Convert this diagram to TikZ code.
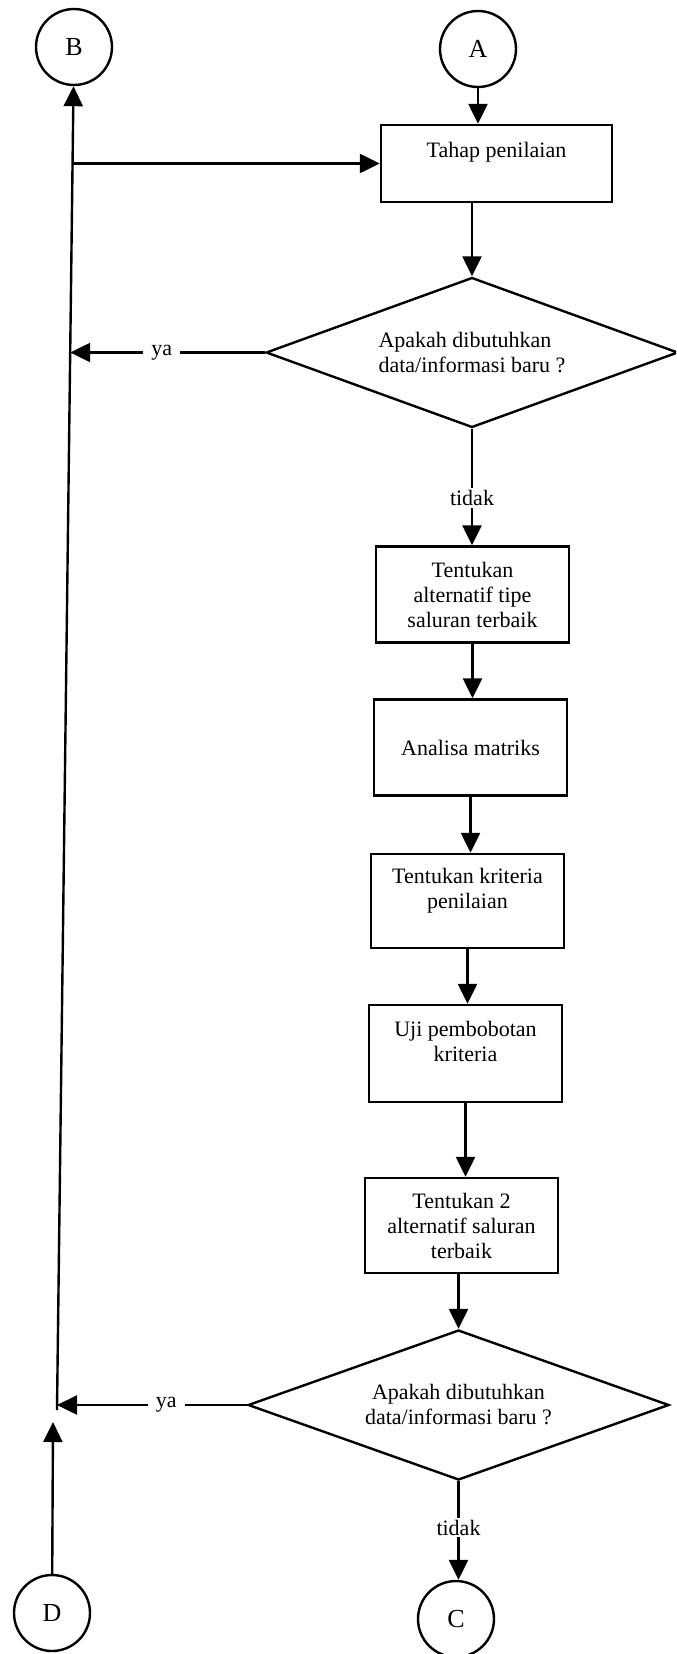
\documentclass[tikz,border=0pt]{standalone}
\usepackage{fontspec}
\setmainfont{Liberation Serif}
\usetikzlibrary{arrows.meta,shapes.geometric}

\begin{document}
\begin{tikzpicture}[x=0.5pt,y=-0.5pt,
  every node/.style={font=\fontsize{11}{12.5}\selectfont},
  conn/.style={line width=1.2pt},
  arr/.style={conn,-{Triangle[length=10pt,width=9.5pt]}},
  proc/.style={draw,line width=1.2pt,minimum width=96.5pt,minimum height=48pt,align=center,inner sep=0pt},
  decide/.style={draw,diamond,line width=1.2pt,inner sep=0pt},
  conlink/.style={draw,circle,line width=1.2pt,minimum size=38pt,inner sep=0pt,font=\fontsize{13}{15}\selectfont},
  lbl/.style={fill=white,inner xsep=4pt,inner ysep=1pt}
]
\useasboundingbox (0,0) rectangle (676,1654);
\clip (0,0) rectangle (676,1654);

% connectors (off-page links)
\node[conlink] (B) at (74,47) {B};
\node[conlink] (A) at (478,49) {A};
\node[conlink] (C) at (456,1619) {C};
\node[conlink] (D) at (52,1613) {D};

% process steps
\node[proc,minimum width=115.5pt,minimum height=38.5pt] (tahap) at (496.5,163.5) {};
\node[anchor=base] (tahapT) at (496.5,157) {Tahap penilaian};
\node[proc] (b2) at (472.5,594.5) {Tentukan\\alternatif tipe\\saluran terbaik};
\node[proc] (b3) at (470.5,747.5) {Analisa matriks};
\node[proc,minimum height=47pt] (b4) at (467.5,901) {};
\node[align=center] (b4T) at (467.5,891) {Tentukan kriteria\\penilaian};
\node[proc,minimum height=48.5pt] (b5) at (465.5,1053.5) {};
\node[align=center] (b5T) at (465.5,1041) {Uji pembobotan\\kriteria};
\node[proc,minimum height=47.5pt] (b6) at (461.5,1225.5) {Tentukan 2\\alternatif saluran\\terbaik};

% decisions
\node[decide,aspect=2.75,minimum width=206pt,minimum height=75pt,align=left] (d1) at (472,352.5)
  {Apakah dibutuhkan\\data/informasi baru ?};
\node[decide,aspect=2.8,minimum width=210.5pt,minimum height=75pt,align=center] (d2) at (458.5,1405)
  {Apakah dibutuhkan\\data/informasi baru ?};

% points on the return line at the left
\coordinate (jb) at (57,1410);
\coordinate (j1) at (72.5,163.5);
\coordinate (j2) at (70.2,352.5);
\coordinate (j3) at (57,1405);
\coordinate (jd) at (53,1422);

% flow
\draw[arr] (A) -- (A |- tahap.north);
\draw[arr] (jb) -- (B);
\draw[arr] (j1) -- (tahap.west);
\draw[arr] (d1.north |- tahap.south) -- (d1.north);
\draw[arr] (d1.west) -- (j2) node[lbl,pos=0.53] {ya};
\draw[arr] (d1.south) -- (d1.south |- b2.north) node[lbl,inner xsep=1pt,pos=0.595] {tidak};
\draw[arr] (b2) -- (b2 |- b3.north);
\draw[arr] (b3) -- (b3 |- b4.north);
\draw[arr] (b4) -- (b4 |- b5.north);
\draw[arr] (b5) -- (b5 |- b6.north);
\draw[arr] (d2.north |- b6.south) -- (d2.north);
\draw[arr] (d2.west) -- (j3) node[lbl,pos=0.425] {ya};
\draw[arr] (d2.south) -- (d2.south |- C.north) node[lbl,inner xsep=1pt,pos=0.47] {tidak};
\draw[arr] (D) -- (jd);
\end{tikzpicture}
\end{document}
